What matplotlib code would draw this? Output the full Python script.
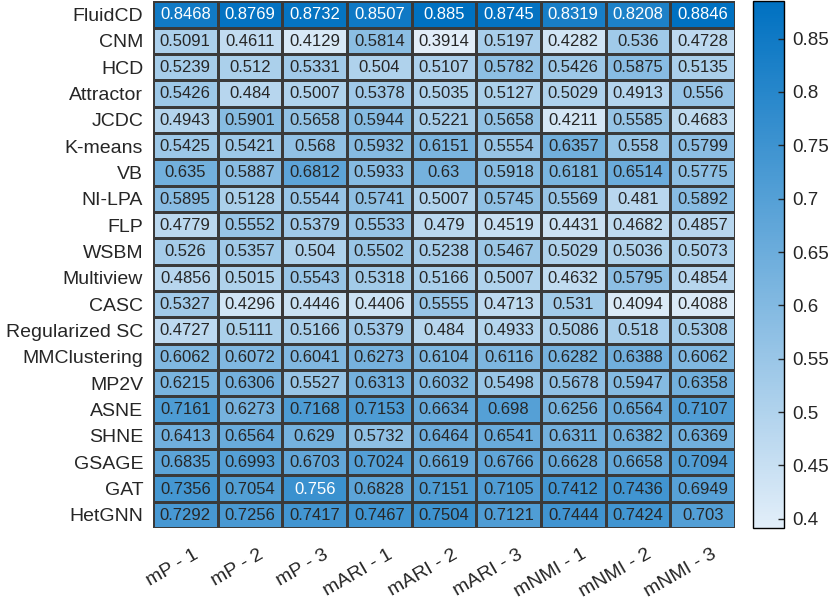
import matplotlib

matplotlib.use("Agg")
import matplotlib.pyplot as plt
import matplotlib.transforms as mtransforms
import numpy as np
from matplotlib.colors import LinearSegmentedColormap


METHODS = [
    "FluidCD", "CNM", "HCD", "Attractor", "JCDC", "K-means", "VB", "NI-LPA",
    "FLP", "WSBM", "Multiview", "CASC", "Regularized SC", "MMClustering",
    "MP2V", "ASNE", "SHNE", "GSAGE", "GAT", "HetGNN",
]
METRICS = ["mP - 1", "mP - 2", "mP - 3", "mARI - 1", "mARI - 2", "mARI - 3",
           "mNMI - 1", "mNMI - 2", "mNMI - 3"]

fluidcd = [0.8468, 0.8769, 0.8732, 0.8507, 0.885, 0.8745, 0.8319, 0.8208, 0.8846]
cnm = [0.5091, 0.4611, 0.4129, 0.5814, 0.3914, 0.5197, 0.4282, 0.536, 0.4728]
hcd = [0.5239, 0.512, 0.5331, 0.504, 0.5107, 0.5782, 0.5426, 0.5875, 0.5135]
attractor = [0.5426, 0.484, 0.5007, 0.5378, 0.5035, 0.5127, 0.5029, 0.4913, 0.556]
jcdc = [0.4943, 0.5901, 0.5658, 0.5944, 0.5221, 0.5658, 0.4211, 0.5585, 0.4683]
kmeans = [0.5425, 0.5421, 0.568, 0.5932, 0.6151, 0.5554, 0.6357, 0.558, 0.5799]
vb = [0.635, 0.5887, 0.6812, 0.5933, 0.63, 0.5918, 0.6181, 0.6514, 0.5775]
nilpa = [0.5895, 0.5128, 0.5544, 0.5741, 0.5007, 0.5745, 0.5569, 0.481, 0.5892]
flp = [0.4779, 0.5552, 0.5379, 0.5533, 0.479, 0.4519, 0.4431, 0.4682, 0.4857]
wsbm = [0.526, 0.5357, 0.504, 0.5502, 0.5238, 0.5467, 0.5029, 0.5036, 0.5073]
multiview = [0.4856, 0.5015, 0.5543, 0.5318, 0.5166, 0.5007, 0.4632, 0.5795, 0.4854]
casc = [0.5327, 0.4296, 0.4446, 0.4406, 0.5555, 0.4713, 0.531, 0.4094, 0.4088]
regsc = [0.4727, 0.5111, 0.5166, 0.5379, 0.484, 0.4933, 0.5086, 0.518, 0.5308]
mmclustering = [0.6062, 0.6072, 0.6041, 0.6273, 0.6104, 0.6116, 0.6282, 0.6388, 0.6062]
mp2v = [0.6215, 0.6306, 0.5527, 0.6313, 0.6032, 0.5498, 0.5678, 0.5947, 0.6358]
asne = [0.7161, 0.6273, 0.7168, 0.7153, 0.6634, 0.698, 0.6256, 0.6564, 0.7107]
shne = [0.6413, 0.6564, 0.629, 0.5732, 0.6464, 0.6541, 0.6311, 0.6382, 0.6369]
gsage = [0.6835, 0.6993, 0.6703, 0.7024, 0.6619, 0.6766, 0.6628, 0.6658, 0.7094]
gat = [0.7356, 0.7054, 0.756, 0.6828, 0.7151, 0.7105, 0.7412, 0.7436, 0.6949]
hetgnn = [0.7292, 0.7256, 0.7417, 0.7467, 0.7504, 0.7121, 0.7444, 0.7424, 0.703]

ROWS = [fluidcd, cnm, hcd, attractor, jcdc, kmeans, vb, nilpa, flp, wsbm,
        multiview, casc, regsc, mmclustering, mp2v, asne, shne, gsage, gat, hetgnn]


def main():
    plt.rcParams["font.family"] = ["Liberation Sans", "DejaVu Sans"]
    data = np.array(ROWS)
    cmap = LinearSegmentedColormap.from_list("mblue", ["#e2eef9", "#0071c1"])
    vmin, vmax = data.min(), data.max()
    text_gray = "#262626"

    fig = plt.figure(figsize=(8.3, 6), dpi=100)
    ax = fig.add_axes([0.1843, 0.12, 0.7012, 0.878])
    cax = fig.add_axes([0.9075, 0.12, 0.0373, 0.878])

    mesh = ax.pcolormesh(data, cmap=cmap, vmin=vmin, vmax=vmax,
                         edgecolors="#3a3a3a", linewidth=0.9)
    ax.set_xlim(0, data.shape[1])
    ax.set_ylim(data.shape[0], 0)
    for side in ax.spines.values():
        side.set_visible(False)

    for i in range(data.shape[0]):
        for j in range(data.shape[1]):
            v = data[i, j]
            color = "white" if (v - vmin) / (vmax - vmin) > 0.735 else text_gray
            ax.text(j + 0.5, i + 0.52, f"{v:.4f}".rstrip("0"), ha="center",
                    va="center", fontsize=12, color=color)

    ax.set_yticks(np.arange(data.shape[0]) + 0.5, METHODS, fontsize=14,
                  color=text_gray)
    ax.set_xticks(np.arange(data.shape[1]) + 0.5, METRICS, fontsize=14,
                  color=text_gray, rotation=30, ha="right", va="top",
                  rotation_mode="anchor")
    ax.tick_params(axis="y", length=0, pad=7)
    ax.tick_params(axis="x", length=0, pad=13)
    shift = mtransforms.ScaledTranslation(8 / 100, 0, fig.dpi_scale_trans)
    for lbl in ax.get_xticklabels():
        lbl.set_transform(lbl.get_transform() + shift)

    cb = fig.colorbar(mesh, cax=cax)
    cb.set_ticks([0.4, 0.45, 0.5, 0.55, 0.6, 0.65, 0.7, 0.75, 0.8, 0.85])
    cb.set_ticklabels(["0.4", "0.45", "0.5", "0.55", "0.6", "0.65", "0.7",
                       "0.75", "0.8", "0.85"])
    cb.ax.tick_params(labelsize=13.5, direction="in", length=4, width=1,
                      colors=text_gray, pad=6)
    cb.outline.set_edgecolor("black")
    cb.outline.set_linewidth(1)

    fig.savefig("out.png", dpi=100)
    plt.close(fig)


if __name__ == "__main__":
    main()
